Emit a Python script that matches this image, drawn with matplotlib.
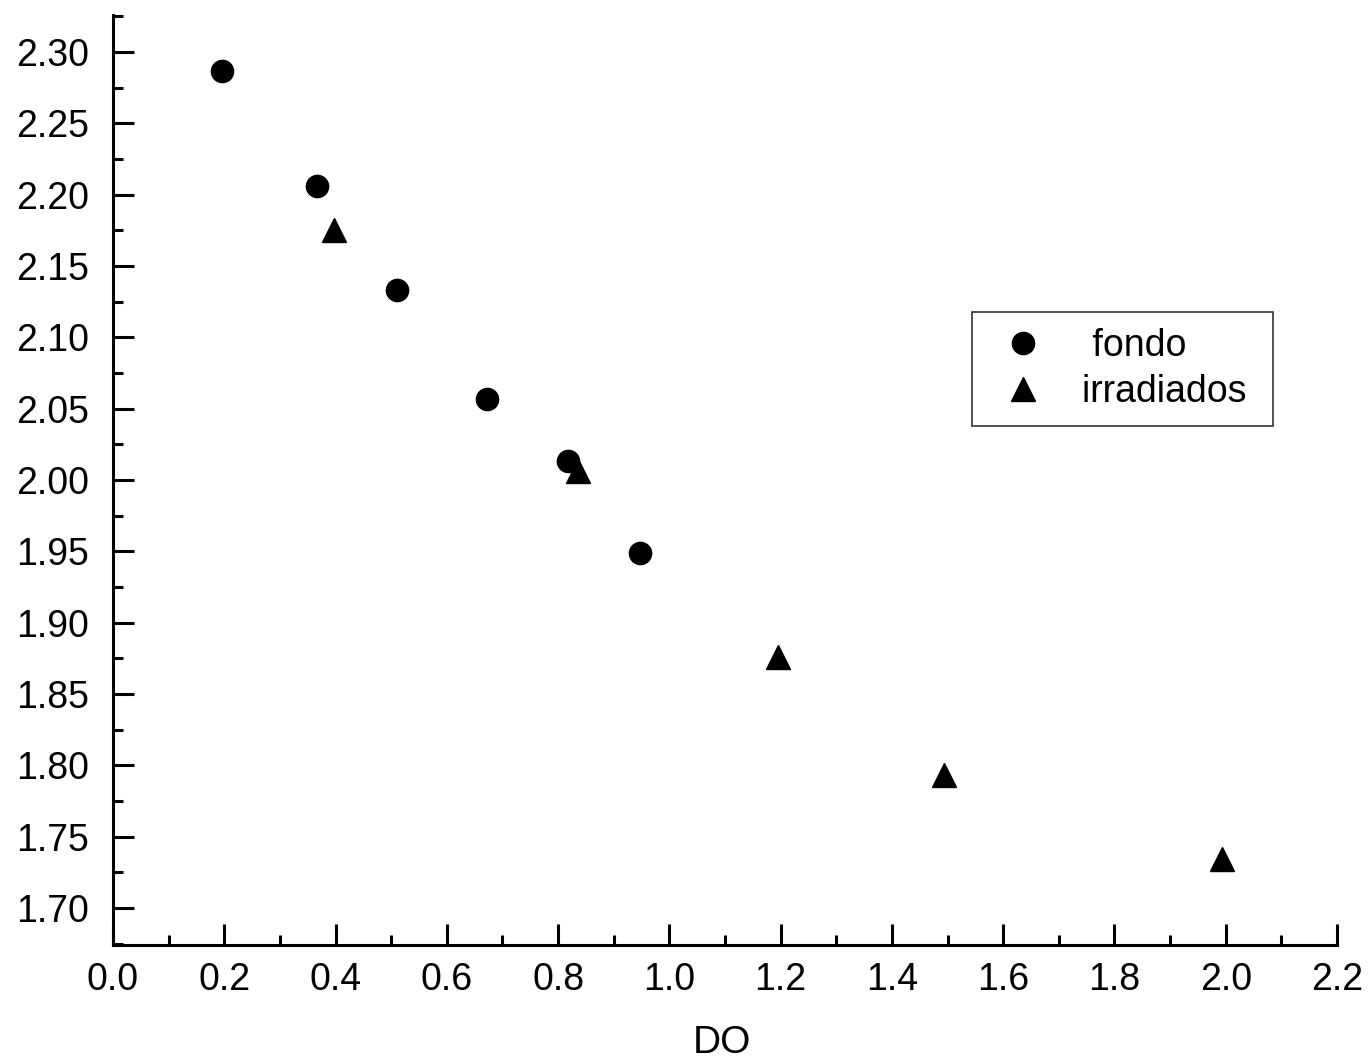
import matplotlib
matplotlib.use('Agg')
import matplotlib.pyplot as plt
from matplotlib.ticker import MultipleLocator, FormatStrFormatter

plt.rcParams['font.family'] = ['Liberation Sans', 'DejaVu Sans']

# data
fondo_x = [0.196, 0.366, 0.511, 0.673, 0.817, 0.947]
fondo_y = [2.287, 2.206, 2.133, 2.057, 2.013, 1.949]
irrad_x = [0.398, 0.835, 1.196, 1.494, 1.993]
irrad_y = [2.175, 2.006, 1.876, 1.793, 1.734]

fig = plt.figure(figsize=(13.68, 10.64), dpi=100)
ax = fig.add_axes([113/1368, 119/1064, 1224/1368, 930/1064])

ax.plot(fondo_x, fondo_y, 'o', color='black', ms=16, label=' fondo')
ax.plot(irrad_x, irrad_y, '^', color='black', ms=17, label='irradiados ')

ax.set_xlim(0, 2.2)
ax.set_ylim(1.674, 2.326)
ax.xaxis.set_major_locator(MultipleLocator(0.2))
ax.xaxis.set_minor_locator(MultipleLocator(0.1))
ax.yaxis.set_major_locator(MultipleLocator(0.05))
ax.yaxis.set_minor_locator(MultipleLocator(0.025))
ax.xaxis.set_major_formatter(FormatStrFormatter('%.1f'))
ax.yaxis.set_major_formatter(FormatStrFormatter('%.2f'))

ax.spines['top'].set_visible(False)
ax.spines['right'].set_visible(False)
for s in ['left', 'bottom']:
    ax.spines[s].set_linewidth(2.2)

ax.tick_params(which='major', direction='in', length=15, width=2.2, labelsize=27)
ax.tick_params(which='minor', direction='in', length=7.5, width=2.2)
ax.tick_params(axis='x', pad=12)
ax.tick_params(axis='y', pad=17)

ax.set_xlabel('DO', fontsize=28)
ax.xaxis.set_label_coords(0.5 + (722 - 725) / 1224, -80 / 930)

leg = ax.legend(loc='upper left', bbox_to_anchor=(972/1368, 1 - 312/1064),
                bbox_transform=fig.transFigure, fontsize=27, frameon=True,
                fancybox=False, borderpad=0.42, borderaxespad=0,
                handletextpad=0.64, labelspacing=0.28, handlelength=1.87)
leg.get_frame().set_edgecolor('black')
leg.get_frame().set_linewidth(1.2)

fig.savefig('out.png', dpi=100)
